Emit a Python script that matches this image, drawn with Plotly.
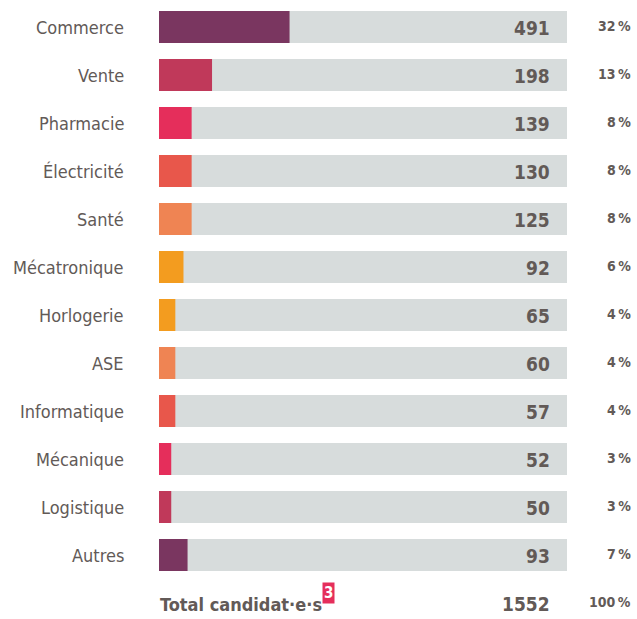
import plotly.graph_objects as go

categories = ["Commerce", "Vente", "Pharmacie", "Électricité", "Santé", "Mécatronique",
              "Horlogerie", "ASE", "Informatique", "Mécanique", "Logistique", "Autres"]
counts = [491, 198, 139, 130, 125, 92, 65, 60, 57, 52, 50, 93]
percents = [32, 13, 8, 8, 8, 6, 4, 4, 4, 3, 3, 7]
colors = ["#7a3660", "#c0395a", "#e52e5b", "#e8574b", "#ef8453", "#f39c1f",
          "#f39c1f", "#ef8453", "#e8574b", "#e52e5b", "#c0395a", "#7a3660"]
total_label = "Total candidat·e·s"
total_count = 1552
total_percent = 100
footnote = "3"

W, H = 637, 619
TXT = "#625a57"
FONT = "Liberation Sans Narrow, DejaVu Sans Condensed, sans-serif"

n = len(categories)
ypos = list(range(n))

fig = go.Figure()
fig.add_trace(go.Bar(
    x=[total_percent] * n, y=ypos, orientation="h",
    marker=dict(color="#d7dcdc", line=dict(width=0)),
    width=0.667, hoverinfo="skip", showlegend=False))
fig.add_trace(go.Bar(
    x=percents, y=ypos, orientation="h",
    marker=dict(color=colors, line=dict(width=0)),
    width=0.667, customdata=counts,
    hovertemplate="%{customdata}<extra></extra>", showlegend=False))

ann = []
for i, (c, v, p) in enumerate(zip(categories, counts, percents)):
    ann.append(dict(x=126 / W, xref="paper", y=i, yref="y", text=c, showarrow=False,
                    xanchor="right", yanchor="middle",
                    font=dict(family=FONT, size=18, color=TXT)))
    ann.append(dict(x=552 / W, xref="paper", y=i, yref="y", text=f"<b>{v}</b>", showarrow=False,
                    xanchor="right", yanchor="middle", yshift=-1,
                    font=dict(family=FONT, size=19, color=TXT)))
    ann.append(dict(x=633 / W, xref="paper", y=i, yref="y", text=f"<b>{p}\u2009%</b>", showarrow=False,
                    xanchor="right", yanchor="middle", yshift=1,
                    font=dict(family=FONT, size=14, color=TXT)))

ty = n
ann.append(dict(x=158 / W, xref="paper", y=ty, yref="y", text=f"<b>{total_label}</b>", showarrow=False,
                xanchor="left", yanchor="middle", yshift=-1,
                font=dict(family=FONT, size=18, color=TXT)))
ann.append(dict(x=322 / W, xref="paper", y=ty, yref="y", text=f"<b>{footnote}</b>", showarrow=False,
                xanchor="left", yanchor="middle", yshift=10, bgcolor="#e52e5b",
                borderpad=1, font=dict(family=FONT, size=15, color="white")))
ann.append(dict(x=552 / W, xref="paper", y=ty, yref="y", text=f"<b>{total_count}</b>", showarrow=False,
                xanchor="right", yanchor="middle", yshift=-1,
                font=dict(family=FONT, size=19, color=TXT)))
ann.append(dict(x=633 / W, xref="paper", y=ty, yref="y", text=f"<b>{total_percent}\u2009%</b>", showarrow=False,
                xanchor="right", yanchor="middle", yshift=1,
                font=dict(family=FONT, size=14, color=TXT)))

fig.update_layout(
    width=W, height=H,
    margin=dict(l=0, r=0, t=0, b=0),
    paper_bgcolor="white", plot_bgcolor="white",
    barmode="overlay",
    xaxis=dict(domain=[159 / W, 567 / W], range=[0, total_percent], visible=False, fixedrange=True),
    yaxis=dict(range=[(H - 27) / 48, -27 / 48], visible=False, fixedrange=True),
    annotations=ann,
    font=dict(family=FONT),
)

fig.write_html("out.html", config={"displayModeBar": False},
               post_script="document.body.style.margin='0';document.body.style.overflow='hidden';")
